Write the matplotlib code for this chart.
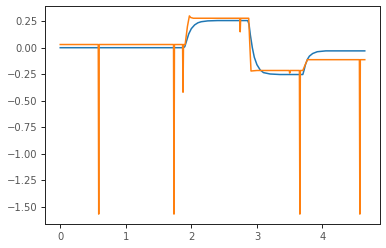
import matplotlib
matplotlib.use("Agg")
import matplotlib.pyplot as plt

# Series 1 (blue) - smooth step response
blue_x = [0.0, 1.88, 1.90, 1.93, 1.96, 2.00, 2.05, 2.10, 2.15, 2.25, 2.40, 2.86,
          2.88, 2.90, 2.93, 2.96, 3.00, 3.05, 3.10, 3.20, 3.35, 3.70,
          3.72, 3.74, 3.77, 3.80, 3.85, 3.92, 4.05, 4.645]
blue_y = [0.0, 0.0, 0.01, 0.07, 0.13, 0.18, 0.215, 0.235, 0.245, 0.253, 0.256, 0.256,
          0.22, 0.12, 0.0, -0.09, -0.16, -0.21, -0.235, -0.248, -0.253, -0.253,
          -0.21, -0.16, -0.11, -0.08, -0.055, -0.038, -0.03, -0.03]

# Series 2 (orange) - noisy measurement with spikes
orange_x = [0.0, 0.580, 0.587, 0.594, 1.728, 1.735, 1.742, 1.866, 1.873, 1.880,
            1.905, 1.94, 1.97, 1.99, 2.03, 2.738, 2.745, 2.752, 2.875, 2.89, 2.91,
            3.00, 3.493, 3.500, 3.507, 3.648, 3.655, 3.662, 3.70, 3.73, 3.77,
            4.563, 4.570, 4.577, 4.645]
orange_y = [0.03, 0.03, -1.57, 0.03, 0.03, -1.57, 0.03, 0.03, -0.42, 0.03,
            0.03, 0.20, 0.30, 0.285, 0.278, 0.278, 0.15, 0.278, 0.278, 0.05, -0.22,
            -0.215, -0.215, -0.24, -0.215, -0.215, -1.57, -0.215, -0.215, -0.17, -0.113,
            -0.113, -1.57, -0.113, -0.113]

fig = plt.figure(figsize=(386 / 72, 248 / 72), dpi=72)
ax = fig.add_axes([45 / 386, 24 / 248, 335 / 386, 218 / 248])
ax.plot(blue_x, blue_y, color="#1f77b4", lw=1.5)
ax.plot(orange_x, orange_y, color="#ff7f0e", lw=1.5)

ax.set_xticks([0, 1, 2, 3, 4])
ax.set_yticks([0.25, 0.0, -0.25, -0.5, -0.75, -1.0, -1.25, -1.5])
for s in ax.spines.values():
    s.set_color("#262626")
    s.set_linewidth(1.0)
ax.tick_params(colors="#262626", labelsize=10, direction="out", length=4, width=1.0)
for lab in ax.get_xticklabels() + ax.get_yticklabels():
    lab.set_color("#555555")

fig.savefig("out.png", dpi=72)
